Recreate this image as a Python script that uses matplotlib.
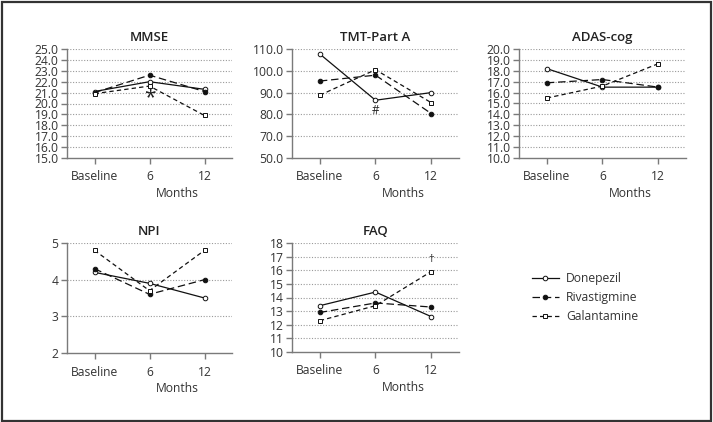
import matplotlib
matplotlib.use("Agg")
import matplotlib.pyplot as plt
from matplotlib.patches import Rectangle

plt.rcParams['font.family'] = ['Open Sans', 'DejaVu Sans']

# ---- data ----
timepoints = ["Baseline", "6", "12"]
drugs = ["Donepezil", "Rivastigmine", "Galantamine"]

mmse_done = [21.1, 22.0, 21.3]
mmse_riva = [21.0, 22.6, 21.1]
mmse_gala = [20.9, 21.6, 18.9]

tmt_done = [107.7, 86.5, 90.0]
tmt_riva = [95.3, 98.0, 80.4]
tmt_gala = [88.8, 100.5, 85.4]

adas_done = [18.2, 16.5, 16.5]
adas_riva = [16.9, 17.2, 16.5]
adas_gala = [15.5, 16.6, 18.65]

npi_done = [4.2, 3.9, 3.5]
npi_riva = [4.3, 3.6, 4.0]
npi_gala = [4.8, 3.7, 4.8]

faq_done = [13.4, 14.4, 12.6]
faq_riva = [12.9, 13.6, 13.3]
faq_gala = [12.3, 13.4, 15.9]

mmse_ticks = [15, 16, 17, 18, 19, 20, 21, 22, 23, 24, 25]
# TMT axis is broken: bottom tick reads 50.0 but sits one step below 70
tmt_ticks = [60, 70, 80, 90, 100, 110]
tmt_labels = ["50.0", "70.0", "80.0", "90.0", "100.0", "110.0"]
adas_ticks = [10, 11, 12, 13, 14, 15, 16, 17, 18, 19, 20]
npi_ticks = [2, 3, 4, 5]
faq_ticks = [10, 11, 12, 13, 14, 15, 16, 17, 18]

W, H = 713, 422
fig = plt.figure(figsize=(W / 100, H / 100), dpi=100)

styles = [
    dict(linestyle='-', marker='o', mfc='white', ms=3.3),
    dict(linestyle=(0, (6, 3)), marker='o', mfc='#111111', ms=3.3),
    dict(linestyle=(0, (3.5, 2.5)), marker='s', mfc='white', ms=3.5),
]

spine_col = '#7a7a7a'
txt_col = '#333333'
fs = 8.7


def px_axes(left, top, right, bottom):
    return fig.add_axes([left / W, 1 - bottom / H, (right - left) / W, (bottom - top) / H])


def panel(ax, title, series, ticks, labels=None, fmt="{:.1f}"):
    x = list(range(len(timepoints)))
    handles = []
    for vals, st in zip(series, styles):
        h, = ax.plot(x, vals, color='#111111', lw=0.9, mec='#111111', mew=0.7, **st)
        handles.append(h)
    ax.set_xlim(-0.5, 2.5)
    ax.set_ylim(ticks[0], ticks[-1])
    ax.set_yticks(ticks)
    if labels is None:
        labels = [fmt.format(t) for t in ticks]
    ax.set_yticklabels(labels)
    ax.set_xticks(x)
    ax.set_xticklabels(timepoints)
    for t in ticks[1:]:
        ax.axhline(t, color='#9a9a9a', lw=0.8, ls=(0, (1, 1.5)), zorder=0)
    for s in ['top', 'right']:
        ax.spines[s].set_visible(False)
    for s in ['left', 'bottom']:
        ax.spines[s].set_color(spine_col)
        ax.spines[s].set_linewidth(1)
    ax.tick_params(colors=spine_col, labelcolor=txt_col, labelsize=fs, length=4, width=1, pad=2)
    ax.tick_params(axis='x', pad=5)
    ax.set_title(title, fontsize=9.5, fontweight='semibold', color='#222222', pad=6)
    ax.annotate("Months", xy=(1.5, 0), xycoords=('data', 'axes fraction'),
                xytext=(0, -21), textcoords='offset points',
                ha='center', va='top', fontsize=fs, color=txt_col)
    return handles


ax1 = px_axes(67, 49, 232, 158)
handles = panel(ax1, "MMSE", [mmse_done, mmse_riva, mmse_gala], mmse_ticks)
ax1.text(1, 20.5, "*", ha='center', va='center', fontsize=15, color='#222222')

ax2 = px_axes(292, 49, 459, 158)
panel(ax2, "TMT-Part A", [tmt_done, tmt_riva, tmt_gala], tmt_ticks, tmt_labels)
ax2.text(1, 81.8, "#", ha='center', va='center', fontsize=8.5, color='#222222')

ax3 = px_axes(519, 49, 686, 158)
panel(ax3, "ADAS-cog", [adas_done, adas_riva, adas_gala], adas_ticks)

ax4 = px_axes(67, 243, 232, 353)
panel(ax4, "NPI", [npi_done, npi_riva, npi_gala], npi_ticks, fmt="{:.0f}")

ax5 = px_axes(292, 243, 459, 352)
panel(ax5, "FAQ", [faq_done, faq_riva, faq_gala], faq_ticks, fmt="{:.0f}")
ax5.text(2, 16.8, "\u2020", ha='center', va='center', fontsize=8, color='#222222')

fig.legend(handles, drugs, loc='upper left', bbox_to_anchor=(532 / W, 1 - 272 / H),
           frameon=False, fontsize=fs, handlelength=2.2, handletextpad=0.6,
           labelspacing=0.5, borderpad=0, borderaxespad=0, labelcolor=txt_col)

# outer frame
fig.patches.append(Rectangle((1.5 / W, 1.5 / H), (W - 4) / W, (H - 3) / H,
                             transform=fig.transFigure, fill=False,
                             edgecolor='#333333', lw=1.6))

fig.savefig("out.png", dpi=100)
